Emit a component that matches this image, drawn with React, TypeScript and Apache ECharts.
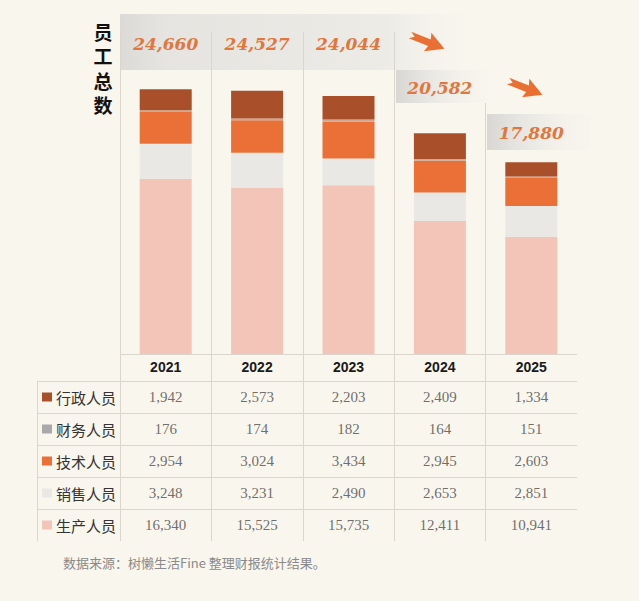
import React, { useEffect, useRef } from "react";
import * as echarts from "echarts";

const years = ["2021", "2022", "2023", "2024", "2025"];
const roles = ["行政人员", "财务人员", "技术人员", "销售人员", "生产人员"];
const admin = [1942, 2573, 2203, 2409, 1334];
const finance = [176, 174, 182, 164, 151];
const tech = [2954, 3024, 3434, 2945, 2603];
const sales = [3248, 3231, 2490, 2653, 2851];
const production = [16340, 15525, 15735, 12411, 10941];
const tableRows = [admin, finance, tech, sales, production];
const roleColors = ["#A9502A", "#A9A9A9", "#EA7038", "#E9E8E5", "#F2C5B8"];
const barColors = ["#A9502A", "#CDA894", "#EA7038", "#E9E8E5", "#F2C5B8"];
const sourceText = "数据来源：树懒生活Fine 整理财报统计结果。";

const BG = "#F9F6EE";
const LINE = "#DAD6CE";
const fmt = (n: number) => n.toLocaleString("en-US");

export default function App() {
  const ref = useRef<HTMLDivElement>(null);
  useEffect(() => {
    document.body.style.margin = "0";
    document.body.style.background = BG;
    const chart = echarts.init(ref.current!, null, { renderer: "svg" });
    const totals = years.map((_, i) => tableRows.reduce((s, r) => s + r[i], 0));

    const rich: any = {
      name: { fontSize: 15, color: "#333", fontFamily: "Noto Sans CJK SC", padding: [0, 0, 0, 4] },
    };
    roles.forEach((_, i) => {
      rich["sq" + i] = { width: 10, height: 9, backgroundColor: roleColors[i] };
    });

    const tableData: any[] = [];
    tableRows.forEach((row, r) => row.forEach((v, c) => tableData.push([c, r, v])));

    // stacking order bottom -> top
    const stackOrder = [4, 3, 2, 1, 0];
    const barSeries = stackOrder.map((ri, k) => ({
      name: roles[ri],
      type: "bar",
      stack: "total",
      xAxisIndex: 0,
      yAxisIndex: 0,
      barWidth: 52,
      data: tableRows[ri],
      itemStyle: { color: barColors[ri] },
      ...(k === 0
        ? {
            markLine: {
              silent: true,
              symbol: ["none", "none"],
              label: { show: false },
              lineStyle: { color: LINE, type: "solid", width: 1 },
              data: [{ yAxis: 0 }],
            },
          }
        : {}),
    }));

    chart.setOption({
      animation: false,
      backgroundColor: BG,
      grid: [
        { left: 120, top: 32, width: 457, height: 349 },
        { left: 120, top: 381, width: 457, height: 160 },
        { left: 37, top: 381, width: 83, height: 160 },
      ],
      xAxis: [
        {
          gridIndex: 0,
          type: "category",
          data: years,
          axisLine: { show: false },
          axisTick: { show: false },
          axisLabel: {
            inside: true,
            margin: 14,
            verticalAlign: "middle",
            fontFamily: "Liberation Sans",
            fontWeight: "bold",
            fontSize: 14,
            color: "#1a1a1a",
          },
          splitLine: { show: true, showMaxLine: false, lineStyle: { color: LINE, width: 1 } },
        },
        {
          gridIndex: 1,
          type: "category",
          data: years,
          axisLine: { show: false },
          axisTick: { show: false },
          axisLabel: { show: false },
          splitLine: { show: true, showMaxLine: false, lineStyle: { color: LINE, width: 1 } },
        },
        { gridIndex: 2, type: "value", show: false },
      ],
      yAxis: [
        { gridIndex: 0, type: "value", min: -2500, max: 30000, show: false },
        {
          gridIndex: 1,
          type: "category",
          data: roles,
          inverse: true,
          axisLine: { show: false },
          axisTick: { show: false },
          axisLabel: { show: false },
          splitLine: { show: true, showMaxLine: false, lineStyle: { color: LINE, width: 1 } },
        },
        {
          gridIndex: 2,
          type: "category",
          data: roles,
          inverse: true,
          axisLine: { show: true, lineStyle: { color: LINE, width: 1 } },
          axisTick: { show: false },
          axisLabel: {
            inside: true,
            margin: 5,
            formatter: (v: string, i: number) => `{sq${i}|}{name|${v}}`,
            rich,
          },
          splitLine: { show: true, showMaxLine: false, lineStyle: { color: LINE, width: 1 } },
        },
      ],
      series: [
        ...barSeries,
        {
          type: "scatter",
          xAxisIndex: 1,
          yAxisIndex: 1,
          symbolSize: 1,
          itemStyle: { color: "transparent" },
          data: tableData,
          label: {
            show: true,
            position: "inside",
            formatter: (p: any) => fmt(p.value[2]),
            fontFamily: "Liberation Serif",
            fontSize: 15,
            color: "#4a4a4a",
          },
        },
      ],
    });

    const xs = years.map((_, i) => chart.convertToPixel({ xAxisIndex: 0 } as any, i) as number);
    const labelY = [44, 44, 44, 88, 133];
    const gradH = (stops: [number, string][]) =>
      new echarts.graphic.LinearGradient(0, 0, 1, 0, stops.map(([offset, color]) => ({ offset, color })));
    const arrowPts = [
      [0, -3.5],
      [21, -3.5],
      [19, -10],
      [37, 0],
      [19, 10],
      [21, 3.5],
      [0, 3.5],
      [5, 0],
    ];

    chart.setOption({
      graphic: [
        {
          type: "rect",
          z: -1,
          shape: { x: 120, y: 14, width: 372, height: 56 },
          style: {
            fill: gradH([
              [0, "#DBDAD6"],
              [0.12, "#E5E4E0"],
              [0.72, "#ECEBE6"],
              [1, "rgba(249,246,238,0)"],
            ]),
          },
        },
        { type: "rect", z: 5, shape: { x: 484, y: 30, width: 6, height: 73 }, style: { fill: BG } },
        {
          type: "rect",
          z: 10,
          shape: { x: 396, y: 70, width: 112, height: 33 },
          style: {
            fill: gradH([
              [0, "#D8D7D3"],
              [0.25, "#E6E5E1"],
              [1, "rgba(249,246,238,0)"],
            ]),
          },
        },
        {
          type: "rect",
          z: 10,
          shape: { x: 487, y: 114, width: 125, height: 36 },
          style: {
            fill: gradH([
              [0, "#D8D7D3"],
              [0.25, "#E6E5E1"],
              [1, "rgba(249,246,238,0)"],
            ]),
          },
        },
        {
          type: "polygon",
          z: 20,
          x: 410,
          y: 35,
          rotation: -0.38,
          shape: { points: arrowPts },
          style: { fill: "#EA6F33" },
        },
        {
          type: "polygon",
          z: 20,
          x: 508,
          y: 81,
          rotation: -0.38,
          shape: { points: arrowPts },
          style: { fill: "#EA6F33" },
        },
        ...totals.map((t, i) => ({
          type: "text",
          z: 20,
          x: xs[i],
          y: labelY[i],
          style: {
            text: fmt(t),
            align: "center",
            verticalAlign: "middle",
            fontFamily: "DejaVu Serif",
            fontStyle: "italic",
            fontWeight: "bold",
            fontSize: 17,
            fill: "#E0773F",
          },
        })),
        {
          type: "text",
          z: 20,
          x: 103,
          y: 19,
          style: {
            text: "员\n工\n总\n数",
            align: "center",
            verticalAlign: "top",
            lineHeight: 24.5,
            fontFamily: "Noto Sans CJK SC",
            fontWeight: "bold",
            fontSize: 19,
            fill: "#111",
          },
        },
        {
          type: "text",
          z: 20,
          x: 63,
          y: 562,
          style: {
            text: sourceText,
            align: "left",
            verticalAlign: "middle",
            fontFamily: "Noto Sans CJK SC",
            fontSize: 13,
            fill: "#8a8a8a",
          },
        },
      ],
    });

    return () => chart.dispose();
  }, []);
  return <div ref={ref} style={{ width: 639, height: 601 }} />;
}
